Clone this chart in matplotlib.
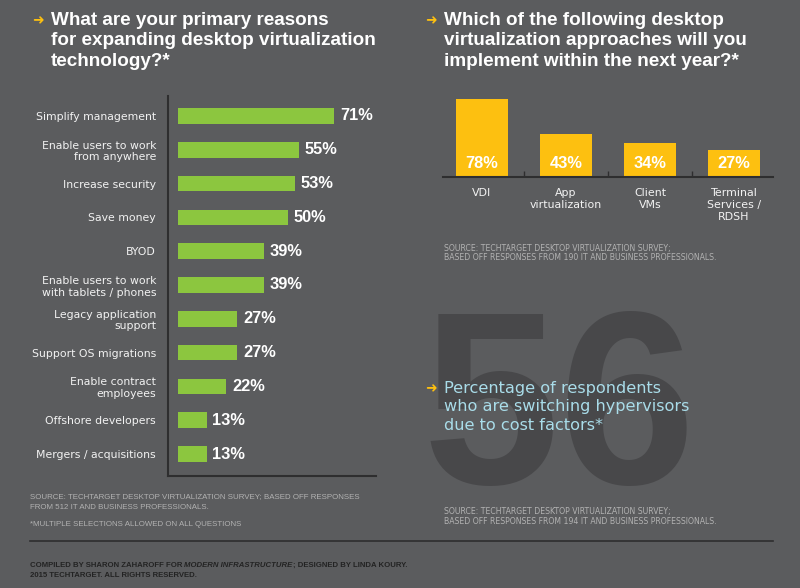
import numpy as np
import matplotlib.pyplot as plt

# ---- data ----
reasons = ['Simplify management', 'Enable users to work\nfrom anywhere',
           'Increase security', 'Save money', 'BYOD',
           'Enable users to work\nwith tablets / phones',
           'Legacy application\nsupport', 'Support OS migrations',
           'Enable contract\nemployees', 'Offshore developers',
           'Mergers / acquisitions']
reason_pct = [71, 55, 53, 50, 39, 39, 27, 27, 22, 13, 13]

approaches = ['VDI', 'App\nvirtualization', 'Client\nVMs',
              'Terminal\nServices /\nRDSH']
approach_pct = [78, 43, 34, 27]

switching_pct = 56

# ---- styles ----
BG = '#5b5c5e'
GREEN = '#8cc63f'
YELLOW = '#fdc010'
DARK = '#2e2e2f'
SRC = '#b2b2b2'
CYAN = '#a9dce9'
W, H = 800, 588


def box(left, top, right, bottom):
    # pixel box -> figure fraction
    return [left / W, 1 - bottom / H, (right - left) / W, (bottom - top) / H]


fig = plt.figure(figsize=(8, 5.88), dpi=100, facecolor=BG)

# overlay for free text, big number and rules
bg = fig.add_axes([0, 0, 1, 1], zorder=0)
bg.set_xlim(0, W)
bg.set_ylim(H, 0)
bg.axis('off')

title_kw = dict(color='white', fontsize=13.6, fontweight='bold',
                family='Liberation Sans', va='baseline')
arrow_kw = dict(color=YELLOW, fontsize=10, family='DejaVu Sans',
                ha='center', va='center')

# left title
bg.text(38, 20, '\u279c', **arrow_kw)
for i, line in enumerate(['What are your primary reasons',
                          'for expanding desktop virtualization',
                          'technology?*']):
    bg.text(51, 25 + i * 20.4, line, **title_kw)

# right title
bg.text(431, 20, '\u279c', **arrow_kw)
for i, line in enumerate(['Which of the following desktop',
                          'virtualization approaches will you',
                          'implement within the next year?*']):
    bg.text(444, 25 + i * 20.4, line, **title_kw)

# big number behind the callout
bg.text(422, 484, f'{switching_pct}', color='#48484a', fontsize=177,
        fontweight='bold', family='Liberation Sans', va='baseline',
        zorder=1)
bg.text(431, 388, '\u279c', zorder=3, **arrow_kw)
for i, line in enumerate(['Percentage of respondents',
                          'who are switching hypervisors',
                          'due to cost factors*']):
    bg.text(444, 393 + i * 18.5, line, color=CYAN, fontsize=11.6,
            family='DejaVu Sans', va='baseline', zorder=3)

# sources
src_r = dict(color=SRC, fontsize=5.6, family='DejaVu Sans', va='baseline')
bg.text(444, 251, 'SOURCE: TECHTARGET DESKTOP VIRTUALIZATION SURVEY;', **src_r)
bg.text(444, 260.5, 'BASED OFF RESPONSES FROM 190 IT AND BUSINESS PROFESSIONALS.', **src_r)
bg.text(444, 514, 'SOURCE: TECHTARGET DESKTOP VIRTUALIZATION SURVEY;', **src_r)
bg.text(444, 523.5, 'BASED OFF RESPONSES FROM 194 IT AND BUSINESS PROFESSIONALS.', **src_r)

src_l = dict(color=SRC, fontsize=5.65, family='Liberation Sans', va='baseline')
bg.text(30, 498, 'SOURCE: TECHTARGET DESKTOP VIRTUALIZATION SURVEY; BASED OFF RESPONSES', **src_l)
bg.text(30, 509, 'FROM 512 IT AND BUSINESS PROFESSIONALS.', **src_l)
bg.text(30, 526, '*MULTIPLE SELECTIONS ALLOWED ON ALL QUESTIONS', **src_l)

# footer rule and credits
bg.plot([30, 773], [541, 541], color=DARK, lw=1.2)
foot = dict(color='#232323', fontsize=5.6, fontweight='bold',
            family='Liberation Sans', va='baseline')
renderer = fig.canvas.get_renderer()
x = 30
for part, style in [('COMPILED BY SHARON ZAHAROFF FOR ', 'normal'),
                    ('MODERN INFRASTRUCTURE', 'italic'),
                    ('; DESIGNED BY LINDA KOURY.', 'normal')]:
    t = bg.text(x, 567, part, fontstyle=style, **foot)
    x += t.get_window_extent(renderer).width
bg.text(30, 577, '2015 TECHTARGET. ALL RIGHTS RESERVED.', **foot)

# ---- left chart: reasons ----
ax = fig.add_axes(box(168, 96, 376, 476), zorder=2)
ax.patch.set_alpha(0)
ind = np.arange(len(reasons))
rects = ax.barh(ind, reason_pct, height=0.46, color=GREEN)
ax.bar_label(rects, labels=[f'{v}%' for v in reason_pct], padding=4,
             color='white', fontsize=11.8, fontweight='bold',
             family='Liberation Sans')
ax.set_xlim(-4.55, 90)
ax.set_ylim(10.65, -0.59)
ax.set_yticks(ind)
ax.set_yticklabels(reasons, color='#f2f2f2', fontsize=7.8,
                   family='DejaVu Sans')
ax.tick_params(axis='y', length=0, pad=8.6)
ax.set_xticks([])
for side in ['top', 'right']:
    ax.spines[side].set_visible(False)
for side in ['left', 'bottom']:
    ax.spines[side].set_color(DARK)
    ax.spines[side].set_linewidth(1.5)

# ---- right chart: approaches ----
ax2 = fig.add_axes(box(443, 90, 773, 177), zorder=2)
ax2.patch.set_alpha(0)
ind2 = np.arange(len(approaches))
ax2.bar(ind2, approach_pct, width=0.62, color=YELLOW)
for i, v in enumerate(approach_pct):
    ax2.annotate(f'{v}%', xy=(i, 0), xytext=(0, 10), textcoords='offset points',
                 ha='center', va='center', color='white', fontsize=11.8,
                 fontweight='bold', family='Liberation Sans')
ax2.set_xlim(-0.464, 3.464)
ax2.set_ylim(0, 87)
ax2.set_yticks([])
ax2.set_xticks(ind2)
ax2.set_xticklabels(approaches, color='#f2f2f2', fontsize=7.9,
                    family='DejaVu Sans', linespacing=1.25)
ax2.tick_params(axis='x', which='major', length=0, pad=8)
ax2.set_xticks(ind2[:-1] + 0.5, minor=True)
ax2.tick_params(axis='x', which='minor', direction='in', length=4.5,
                width=1, color=DARK)
for side in ['top', 'right', 'left']:
    ax2.spines[side].set_visible(False)
ax2.spines['bottom'].set_color(DARK)
ax2.spines['bottom'].set_linewidth(1.5)

fig.savefig('out.png', dpi=100, facecolor=BG)
